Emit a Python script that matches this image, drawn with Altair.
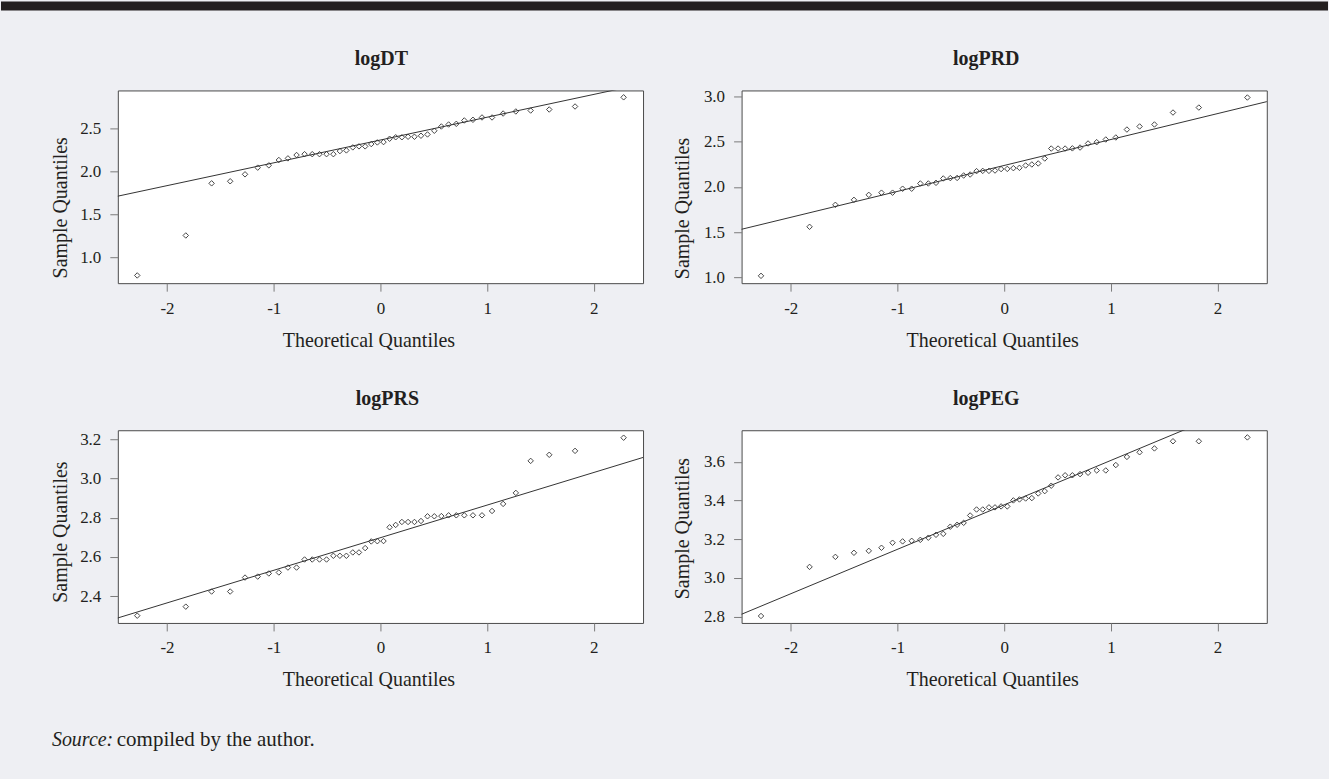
import altair as alt
import pandas as pd

# Theoretical normal quantiles (x positions, n = 44)
theoretical = [-2.279, -1.824, -1.582, -1.408, -1.269, -1.150, -1.046, -0.952, -0.867, -0.786,
               -0.711, -0.639, -0.571, -0.505, -0.441, -0.380, -0.319, -0.259, -0.201, -0.143,
               -0.086, -0.029, 0.029, 0.086, 0.143, 0.201, 0.259, 0.319, 0.380, 0.441,
               0.505, 0.571, 0.639, 0.711, 0.786, 0.867, 0.952, 1.046, 1.150, 1.269,
               1.408, 1.582, 1.824, 2.279]

log_dt = [0.790, 1.256, 1.864, 1.888, 1.969, 2.047, 2.074, 2.136, 2.155, 2.194,
          2.204, 2.204, 2.204, 2.204, 2.204, 2.240, 2.248, 2.283, 2.295, 2.295,
          2.322, 2.341, 2.345, 2.384, 2.401, 2.401, 2.407, 2.407, 2.419, 2.434,
          2.477, 2.527, 2.550, 2.558, 2.597, 2.605, 2.632, 2.632, 2.678, 2.702,
          2.713, 2.725, 2.760, 2.867]

log_prd = [1.018, 1.560, 1.803, 1.858, 1.913, 1.937, 1.937, 1.981, 1.981, 2.039,
           2.039, 2.046, 2.094, 2.098, 2.100, 2.127, 2.138, 2.175, 2.178, 2.178,
           2.182, 2.198, 2.200, 2.208, 2.212, 2.238, 2.249, 2.260, 2.315, 2.425,
           2.425, 2.425, 2.427, 2.436, 2.481, 2.495, 2.525, 2.547, 2.635, 2.669,
           2.691, 2.823, 2.878, 2.989]

log_prs = [2.301, 2.347, 2.424, 2.424, 2.495, 2.500, 2.516, 2.521, 2.546, 2.546,
           2.587, 2.587, 2.587, 2.587, 2.606, 2.606, 2.606, 2.623, 2.623, 2.645,
           2.679, 2.680, 2.681, 2.751, 2.763, 2.778, 2.778, 2.778, 2.783, 2.807,
           2.807, 2.808, 2.812, 2.812, 2.812, 2.812, 2.812, 2.834, 2.870, 2.926,
           3.089, 3.120, 3.140, 3.207]

log_peg = [2.803, 3.057, 3.109, 3.130, 3.140, 3.156, 3.182, 3.189, 3.192, 3.197,
           3.208, 3.223, 3.228, 3.265, 3.275, 3.285, 3.323, 3.354, 3.354, 3.365,
           3.365, 3.370, 3.370, 3.401, 3.406, 3.411, 3.413, 3.437, 3.449, 3.477,
           3.520, 3.531, 3.531, 3.537, 3.544, 3.556, 3.556, 3.584, 3.626, 3.650,
           3.670, 3.707, 3.707, 3.727]

panel_names = ["logDT", "logPRD", "logPRS", "logPEG"]
panel_values = [log_dt, log_prd, log_prs, log_peg]
y_domains = [[0.700, 2.947], [0.937, 3.067], [2.264, 3.245], [2.767, 3.764]]
y_ticks = [[1.0, 1.5, 2.0, 2.5], [1.0, 1.5, 2.0, 2.5, 3.0],
           [2.4, 2.6, 2.8, 3.0, 3.2], [2.8, 3.0, 3.2, 3.4, 3.6]]
x_domain = [-2.461, 2.461]
x_ticks = [-2, -1, 0, 1, 2]
# qq reference lines: two end points each
line_x = [-2.47, 2.47]
line_y = [[1.712, 3.026], [1.530, 2.946], [2.288, 3.108], [2.810, 3.946]]

source_label = "Source:"
source_rest = "compiled by the author."

BG = "#EEEFF3"
INK = "#231F20"
FONT = "Liberation Serif"
W, H = 526, 193

# small per-panel text placement tweaks
title_dx = [1, -18, 7, -18]
xtitle_x = [251, 251, 251, 251]
ytitle_x = [-51, -53.5, -51, -53.5]
ytitle_y = [117, 117.7, 101.5, 98]

one = pd.DataFrame({"k": [0]})


def panel(i):
    df = pd.DataFrame({"x": theoretical, "y": panel_values[i]})
    ldf = pd.DataFrame({"x": line_x, "y": line_y[i]})
    xenc = alt.X(
        "x:Q",
        scale=alt.Scale(domain=x_domain, nice=False, zero=False),
        axis=alt.Axis(
            values=x_ticks,
            labelExpr="datum.value < 0 ? '-' + abs(datum.value) : '' + datum.value",
            title="Theoretical Quantiles",
            titleX=xtitle_x[i], titleY=63, titleAlign="center",
            titleBaseline="alphabetic",
        ),
    )
    yenc = alt.Y(
        "y:Q",
        scale=alt.Scale(domain=y_domains[i], nice=False, zero=False),
        axis=alt.Axis(
            values=y_ticks[i], format=".1f",
            title="Sample Quantiles",
            titleX=ytitle_x[i], titleY=ytitle_y[i], titleAlign="center",
            titleBaseline="alphabetic", titleAngle=270,
        ),
    )
    line = alt.Chart(ldf).mark_line(color="#333333", strokeWidth=1, clip=True).encode(
        x=alt.X("x:Q"), y=alt.Y("y:Q"))
    pts = alt.Chart(df).mark_point(
        shape="diamond", size=30, filled=False, stroke="#333333",
        strokeWidth=0.9, opacity=1,
    ).encode(x=xenc, y=yenc)
    title = alt.Chart(one).mark_text(
        text=panel_names[i], font=FONT, fontSize=20, fontWeight="bold",
        align="center", baseline="alphabetic", color=INK,
    ).encode(x=alt.value(W / 2 + title_dx[i]), y=alt.value(-25))
    layers = [line, pts, title]
    if i == 0:
        band = alt.Chart(one).mark_rect(color=INK).encode(
            x=alt.value(-117), x2=alt.value(1329 - 117),
            y=alt.value(-89), y2=alt.value(-80))
        layers.append(band)
    if i == 2:
        s1 = alt.Chart(one).mark_text(
            text=source_label, font=FONT, fontStyle="italic", fontSize=20,
            align="left", baseline="alphabetic", color=INK,
        ).encode(x=alt.value(51 - 117), y=alt.value(746 - 429.3))
        s2 = alt.Chart(one).mark_text(
            text=source_rest, font=FONT, fontSize=21,
            align="left", baseline="alphabetic", color=INK,
        ).encode(x=alt.value(116 - 117), y=alt.value(746 - 429.3))
        layers += [s1, s2]
    if i == 3:
        corner = alt.Chart(one).mark_rect(color=BG).encode(
            x=alt.value(1329 - 741.7 - 1), x2=alt.value(1329 - 741.7),
            y=alt.value(779 - 429.3 - 1), y2=alt.value(779 - 429.3))
        layers.append(corner)
    return alt.layer(*layers).properties(width=W, height=H)


chart = alt.concat(
    *[panel(i) for i in range(4)],
    columns=2,
    spacing={"row": 147.3, "column": 98.7},
    bounds="flush",
).properties(padding=0).configure(
    background=BG,
).configure_view(
    stroke="#4a4a4a", strokeWidth=1, fill="white",
).configure_axis(
    domain=False, grid=False,
    tickColor="#7a7a7a", tickSize=8, tickWidth=1,
    labelFont=FONT, labelFontSize=17, labelColor=INK, labelPadding=9,
    titleFont=FONT, titleFontSize=20, titleFontWeight="normal", titleColor=INK,
)

chart.save("out.html", embed_options={"renderer": "svg", "actions": False})
